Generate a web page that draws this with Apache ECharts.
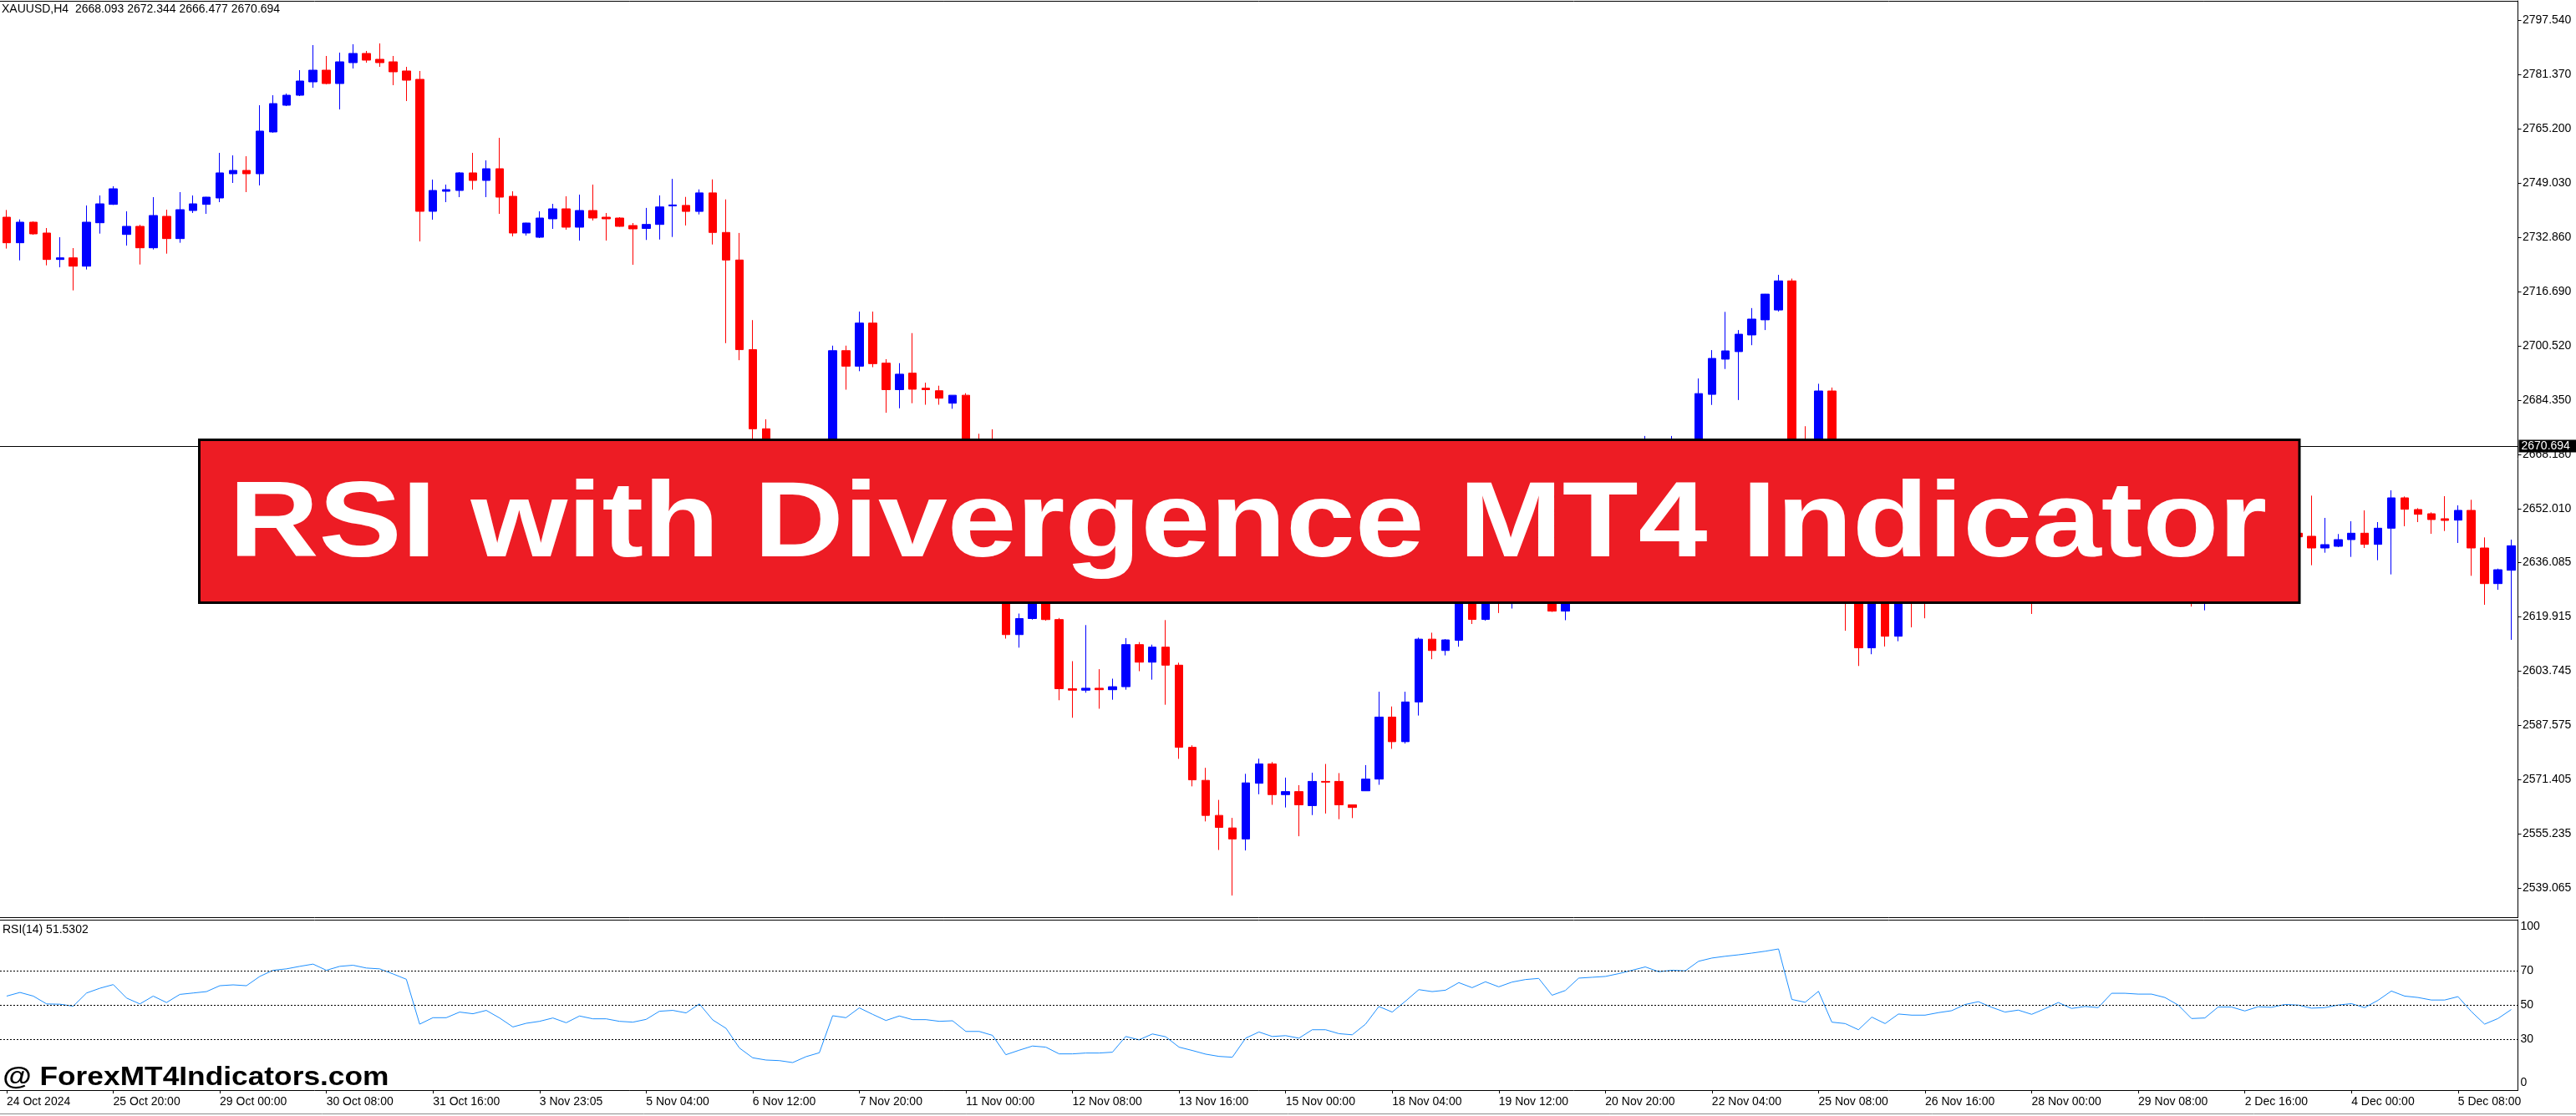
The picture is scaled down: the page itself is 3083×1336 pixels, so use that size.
<!DOCTYPE html>
<html><head><meta charset="utf-8">
<script src="https://cdn.jsdelivr.net/npm/echarts@6/dist/echarts.min.js"></script>
<style>html,body{margin:0;padding:0;background:#fff;overflow:hidden}#c{width:3083px;height:1336px}</style>
</head><body><div id="c"></div>
<script>
const xTickLabels = ['24 Oct 2024','25 Oct 20:00','29 Oct 00:00','30 Oct 08:00','31 Oct 16:00','3 Nov 23:05','5 Nov 04:00','6 Nov 12:00','7 Nov 20:00','11 Nov 00:00','12 Nov 08:00','13 Nov 16:00','15 Nov 00:00','18 Nov 04:00','19 Nov 12:00','20 Nov 20:00','22 Nov 04:00','25 Nov 08:00','26 Nov 16:00','28 Nov 00:00','29 Nov 08:00','2 Dec 16:00','4 Dec 00:00','5 Dec 08:00'];

const opens = [
2738.85,2731.23,2737.36,2734.13,2726.25,2726.75,2724.26,2737.19,2742.67,2733.71,
2736.12,2729.73,2739.1,2732.47,2740.84,2742.67,2744.57,2751.79,2752.78,2751.79,
2764.23,2772.19,2775.17,2779.15,2782.63,2778.65,2784.87,2787.61,2785.87,2785.12,
2782.39,2779.9,2740.6,2746.56,2746.81,2752.04,2749.8,2753.28,2745.07,2734.13,
2732.88,2738.36,2741.34,2735.87,2740.84,2738.85,2738.6,2736.37,2735.5,2736.69,
2742.21,2742.36,2740.57,2746.09,2734.3,2726.1,2699.4,2675.84,2666.0,2662.0,
2657.0,2665.0,2668.0,2699.1,2694.48,2707.31,2695.38,2687.48,2692.4,2687.92,
2687.17,2683.45,2685.83,2671.0,2670.5,2661.0,2614.54,2619.32,2624.5,2619.02,
2598.43,2597.99,2598.58,2598.13,2599.03,2611.56,2606.33,2610.81,2605.44,2580.98,
2571.14,2560.7,2556.97,2553.69,2570.27,2576.02,2566.89,2567.79,2563.62,2570.83,
2570.83,2563.85,2568.02,2571.51,2589.99,2582.66,2594.49,2613.19,2609.81,2612.86,
2627.0,2619.06,2628.0,2624.5,2630.0,2633.0,2634.5,2621.53,2626.0,2640.0,
2642.0,2644.0,2648.0,2652.5,2658.0,2654.0,2657.0,2656.5,2686.09,2696.57,
2698.82,2703.78,2708.28,2711.21,2719.89,2666.0,2663.0,2687.1,2630.0,2626.0,
2610.6,2627.0,2614.06,2628.0,2626.5,2626.2,2629.0,2631.0,2637.0,2639.5,
2634.5,2630.5,2632.0,2628.0,2633.0,2638.5,2633.0,2635.0,2634.0,2648.0,
2648.2,2647.3,2647.5,2644.5,2638.0,2627.0,2627.6,2637.0,2637.2,2634.0,
2637.5,2637.0,2644.74,2643.83,2640.34,2640.84,2642.83,2644.74,2641.42,2646.23,
2655.27,2651.79,2650.54,2649.05,2648.63,2651.54,2640.34,2629.73,2633.71];

const highs = [
2741.0,2738.19,2737.6,2735.62,2732.88,2729.65,2742.34,2745.32,2748.06,2740.6,
2736.6,2744.82,2741.09,2746.32,2745.32,2744.9,2758.01,2757.26,2757.0,2772.19,
2775.17,2775.67,2782.63,2790.1,2786.86,2787.86,2790.35,2788.36,2790.6,2786.86,
2783.63,2782.39,2750.05,2748.56,2752.29,2758.01,2755.77,2762.49,2746.56,2737.2,
2740.6,2742.83,2745.07,2745.57,2748.56,2740.1,2738.85,2737.11,2741.61,2745.34,
2750.26,2744.89,2747.13,2750.11,2744.15,2734.15,2708.2,2678.67,2670.0,2667.0,
2668.0,2671.0,2700.6,2700.6,2710.74,2710.74,2696.57,2695.38,2704.33,2689.56,
2688.67,2685.83,2686.43,2674.35,2675.69,2663.0,2620.81,2627.0,2626.0,2619.5,
2606.63,2617.38,2604.25,2601.42,2613.5,2612.31,2611.56,2618.87,2606.18,2581.58,
2574.87,2565.32,2559.96,2573.08,2577.6,2576.6,2571.96,2569.71,2573.42,2576.02,
2573.3,2563.9,2575.68,2597.53,2593.14,2597.53,2613.64,2615.11,2613.2,2630.0,
2631.0,2632.0,2630.0,2633.0,2636.0,2638.0,2637.0,2628.0,2642.0,2645.0,
2647.0,2650.0,2655.0,2673.7,2662.0,2673.7,2662.0,2690.82,2699.27,2710.65,
2705.24,2711.78,2716.0,2721.69,2720.56,2676.6,2689.24,2688.12,2634.0,2629.0,
2631.0,2629.0,2631.0,2632.0,2630.0,2632.0,2634.0,2640.0,2642.0,2641.0,
2637.0,2635.0,2634.0,2636.0,2641.0,2640.0,2637.0,2637.0,2651.0,2651.0,
2650.0,2650.0,2649.0,2646.0,2640.0,2631.0,2639.0,2640.0,2638.5,2640.0,
2640.0,2646.0,2646.0,2655.93,2649.3,2644.49,2648.3,2651.54,2648.05,2657.51,
2655.68,2652.2,2650.96,2655.77,2653.03,2654.69,2643.49,2634.2,2642.83];

const lows = [
2729.5,2726.0,2733.6,2724.51,2723.93,2717.05,2723.27,2733.96,2742.5,2730.4,
2724.76,2729.23,2727.99,2731.23,2740.1,2739.85,2743.33,2749.05,2746.32,2748.31,
2764.0,2771.94,2774.92,2777.41,2778.4,2770.94,2783.13,2784.87,2783.63,2778.16,
2773.43,2731.64,2738.11,2743.33,2744.82,2747.06,2744.82,2739.85,2733.13,2733.38,
2732.63,2735.37,2735.12,2731.89,2737.86,2731.89,2736.0,2724.68,2732.07,2732.2,
2732.96,2736.39,2739.67,2730.72,2701.34,2696.27,2672.26,2662.0,2658.0,2652.0,
2655.0,2661.0,2664.0,2687.48,2692.99,2694.18,2680.61,2681.95,2683.45,2683.0,
2683.0,2681.8,2668.0,2666.0,2658.0,2613.35,2610.66,2619.0,2618.7,2595.0,
2589.78,2597.24,2592.47,2595.15,2598.13,2603.65,2601.12,2593.66,2577.55,2569.35,
2558.91,2550.41,2536.84,2550.26,2567.0,2563.85,2563.06,2554.5,2560.8,2561.26,
2559.57,2559.9,2568.0,2569.82,2580.52,2582.1,2590.44,2607.22,2608.35,2610.94,
2617.7,2618.7,2620.97,2622.3,2627.0,2629.0,2621.3,2618.83,2624.5,2637.0,
2639.0,2641.0,2646.0,2650.0,2651.0,2652.0,2653.0,2655.0,2682.94,2693.64,
2684.4,2700.73,2705.24,2710.76,2660.0,2656.0,2660.0,2626.0,2615.7,2605.2,
2608.7,2611.0,2612.57,2616.7,2619.4,2624.5,2627.0,2629.0,2635.0,2632.0,
2628.0,2628.0,2620.7,2626.0,2631.0,2631.0,2631.0,2632.0,2632.0,2645.0,
2645.0,2644.0,2642.0,2636.0,2622.9,2621.77,2626.0,2634.0,2632.0,2633.0,
2635.0,2635.0,2642.0,2635.2,2638.93,2640.6,2637.69,2640.34,2636.7,2632.47,
2646.81,2648.05,2644.57,2645.4,2641.83,2632.05,2623.43,2627.9,2612.98];

const closes = [
2731.23,2737.36,2733.88,2726.25,2726.75,2724.26,2737.36,2742.83,2747.31,2736.12,
2729.73,2739.35,2732.47,2741.09,2742.83,2744.82,2752.04,2752.78,2751.79,2764.48,
2772.68,2775.17,2779.4,2782.63,2778.65,2785.12,2787.61,2785.62,2784.87,2782.14,
2779.65,2740.6,2746.81,2747.06,2752.04,2749.8,2753.28,2744.82,2734.13,2737.11,
2738.6,2741.34,2735.87,2740.84,2738.6,2738.36,2736.12,2735.37,2736.69,2741.91,
2742.5,2740.57,2746.09,2734.3,2726.1,2699.4,2675.84,2666.0,2662.0,2657.0,
2665.0,2668.0,2699.1,2694.48,2707.31,2695.23,2687.48,2692.1,2687.62,2687.48,
2684.94,2685.83,2671.0,2670.5,2661.0,2614.54,2619.32,2624.5,2619.02,2598.43,
2597.99,2598.58,2598.13,2599.03,2611.56,2606.33,2610.81,2605.44,2580.98,2571.29,
2560.7,2557.12,2553.69,2570.39,2576.02,2566.89,2567.79,2563.85,2570.83,2570.6,
2563.85,2563.06,2571.51,2589.99,2582.66,2594.49,2613.19,2609.81,2612.97,2627.0,
2619.06,2628.0,2624.5,2630.0,2633.0,2634.5,2621.53,2626.0,2640.0,2642.0,
2644.0,2648.0,2652.5,2658.0,2654.0,2657.0,2656.5,2686.32,2696.79,2699.04,
2704.0,2708.51,2715.94,2719.89,2666.0,2663.0,2687.1,2630.0,2626.0,2610.6,
2627.0,2614.06,2628.0,2626.5,2626.2,2629.0,2631.0,2637.0,2639.5,2634.5,
2630.5,2632.0,2628.0,2633.0,2638.5,2633.0,2635.0,2634.0,2648.0,2648.2,
2647.3,2647.5,2644.5,2638.0,2627.0,2627.6,2637.0,2637.2,2634.0,2637.5,
2637.0,2644.74,2643.66,2640.34,2641.34,2642.83,2644.74,2641.42,2646.23,2655.27,
2651.87,2650.38,2648.8,2648.55,2651.54,2640.34,2629.73,2633.87,2641.0];

const rsiValues = [
55.17,57.31,55.17,50.56,50.4,49.25,56.98,59.78,61.92,54.02,
50.56,55.17,51.39,56.16,56.98,57.81,61.26,61.76,61.26,66.7,
70.32,71.14,72.62,73.94,70.32,72.62,73.28,71.63,71.14,68.18,
65.05,38.71,42.5,42.5,45.79,44.8,46.78,42.33,37.07,39.21,
40.36,42.33,39.53,43.49,41.84,41.84,40.36,39.87,41.51,46.28,
46.78,45.3,50.56,41.18,36.24,24.72,18.96,17.64,17.31,16.16,
19.62,21.92,43.65,42.5,48.26,44.47,40.85,43.49,41.35,41.35,
40.36,40.69,34.43,34.43,32.13,20.77,23.4,25.87,25.21,21.26,
21.26,21.76,21.76,22.25,31.47,29.49,32.95,31.3,25.21,23.24,
21.1,19.78,19.29,30.48,34.1,31.47,31.96,30.48,35.42,35.42,
33.12,32.46,38.71,49.08,45.79,52.21,58.96,57.81,58.63,63.07,
60.11,63.57,60.61,63.4,64.88,65.54,55.67,58.47,65.71,66.2,
66.7,68.34,70.32,72.29,69.49,70.32,69.99,75.6,77.5,78.55,
79.4,80.4,81.51,82.83,53.2,51.55,57.97,39.87,39.04,35.42,
42.83,39.04,44.64,43.98,43.98,45.46,46.61,50.23,51.88,48.59,
45.79,46.94,44.47,47.77,51.39,47.93,49.08,48.42,56.82,56.82,
56.33,56.33,54.35,49.91,42.0,42.33,48.75,48.75,46.45,48.92,
48.59,50.23,49.91,48.09,48.42,49.91,50.73,48.42,52.7,58.14,
55.17,54.35,52.87,52.87,54.85,46.12,38.71,42.0,47.27];

const priceTicks = [2539.065,2555.235,2571.405,2587.575,2603.745,2619.915,2636.085,2652.010,2668.180,2684.350,2700.520,2716.690,2732.860,2749.030,2765.200,2781.370,2797.540];
const rsiTicks = [0,30,50,70,100];
const rsiLevels = [70,50,30];
const currentPrice = 2670.694;
const headerText = 'XAUUSD,H4  2668.093 2672.344 2666.477 2670.694';
const rsiText = 'RSI(14) 51.5302';
const bannerText = 'RSI with Divergence MT4 Indicator';
const watermarkText = '@ ForexMT4Indicators.com';

const FONT = '"Liberation Sans", Arial, sans-serif';
const categories = closes.map((_, i) => (i % 8 === 0 ? xTickLabels[i / 8] : 'b' + i));
const candleData = closes.map((c, i) => [opens[i], c, lows[i], highs[i]]);

const GL = -10.5, GW = 3024;
const chart = echarts.init(document.getElementById('c'), null, { renderer: 'canvas' });
const noAxisBits = { axisTick: { show: false }, axisLabel: { show: false }, splitLine: { show: false } };
const blackLine = { show: true, lineStyle: { color: '#000', width: 1 } };

chart.setOption({
  animation: false,
  backgroundColor: '#ffffff',
  textStyle: { fontFamily: FONT },
  title: [
    { text: headerText, left: 2, top: 4, padding: 0, textStyle: { fontSize: 14, fontWeight: 'normal', color: '#000', fontFamily: FONT } },
    { text: rsiText, left: 3, top: 1106, padding: 0, textStyle: { fontSize: 14, fontWeight: 'normal', color: '#000', fontFamily: FONT } }
  ],
  grid: [
    { left: GL, top: 1, width: GW, height: 1097 },
    { left: GL, top: 1101, width: GW, height: 204 }
  ],
  xAxis: [
    Object.assign({ type: 'category', gridIndex: 0, data: categories, position: 'bottom', axisLine: blackLine }, noAxisBits),
    Object.assign({ type: 'category', gridIndex: 0, data: categories, position: 'top', axisLine: blackLine }, noAxisBits),
    { type: 'category', gridIndex: 1, data: categories, position: 'bottom', axisLine: blackLine,
      axisTick: { show: true, alignWithLabel: true, interval: 7, length: 4, lineStyle: { color: '#000' } },
      axisLabel: { interval: 7, align: 'left', margin: 7, fontSize: 14, color: '#000', fontFamily: FONT },
      splitLine: { show: false } },
    Object.assign({ type: 'category', gridIndex: 1, data: categories, position: 'top', axisLine: blackLine }, noAxisBits)
  ],
  yAxis: [
    { type: 'value', gridIndex: 0, position: 'right', min: 2530.39, max: 2803.28, scale: true,
      axisLine: blackLine,
      axisTick: { show: true, length: 4, customValues: priceTicks, lineStyle: { color: '#000' } },
      axisLabel: { customValues: priceTicks, formatter: v => v.toFixed(3), margin: 5.5, color: '#000', fontSize: 14, fontFamily: FONT },
      splitLine: { show: false } },
    { type: 'value', gridIndex: 1, position: 'right', min: 0, max: 100,
      axisLine: blackLine,
      axisTick: { show: false },
      axisLabel: { customValues: rsiTicks, margin: 3, color: '#000', fontSize: 14, fontFamily: FONT,
        formatter: v => (v === 100 ? '{t|100}' : v === 0 ? '{b|0}' : String(v)),
        rich: { t: { padding: [17, 0, 0, 0], fontSize: 14, color: '#000' }, b: { padding: [0, 0, 17, 0], fontSize: 14, color: '#000' } } },
      splitLine: { show: false } }
  ],
  series: [
    { type: 'candlestick', xAxisIndex: 0, yAxisIndex: 0, data: candleData, barWidth: 10,
      itemStyle: { color: '#0000ff', color0: '#ff0000', borderColor: '#0000ff', borderColor0: '#ff0000', borderWidth: 1 },
      markLine: { silent: true, symbol: ['none', 'none'], animation: false,
        data: [{ yAxis: currentPrice }],
        lineStyle: { color: '#000', width: 1, type: 'solid' },
        label: { show: true, position: 'end', distance: 1, formatter: currentPrice.toFixed(3), color: '#fff', backgroundColor: '#000', padding: [1, 8, 0, 3], fontSize: 14, fontFamily: FONT },
        emphasis: { disabled: true } } },
    { type: 'line', xAxisIndex: 2, yAxisIndex: 1, data: rsiValues, symbol: 'none', showSymbol: false,
      lineStyle: { color: '#1e90ff', width: 1 },
      markLine: { silent: true, symbol: ['none', 'none'], animation: false,
        data: rsiLevels.map(v => ({ yAxis: v })),
        lineStyle: { color: '#000', width: 1, type: [2, 2] },
        label: { show: false }, emphasis: { disabled: true } } }
  ],
  graphic: [
    { type: 'rect', z: 100, shape: { x: 238.5, y: 526.6, width: 2513.5, height: 194.9 },
      style: { fill: '#ed1c24', stroke: '#000', lineWidth: 3 } },
    { type: 'text', z: 101, x: 274, y: 630.5, scaleX: 1.158,
      style: { text: bannerText, fill: '#fff', font: 'bold 128.5px "Liberation Sans", Arial, sans-serif', align: 'left', verticalAlign: 'middle' } },
    { type: 'text', z: 101, x: 3.2, y: 1290.2, scaleX: 1.158,
      style: { text: watermarkText, fill: '#000', font: 'bold 30.5px "Liberation Sans", Arial, sans-serif', align: 'left', verticalAlign: 'middle' } },
    { type: 'line', z: 100, shape: { x1: 0, y1: 1333.5, x2: 3083, y2: 1333.5 }, style: { stroke: '#8c8c8c', lineWidth: 1 } }
  ]
});
</script>
</body></html>
